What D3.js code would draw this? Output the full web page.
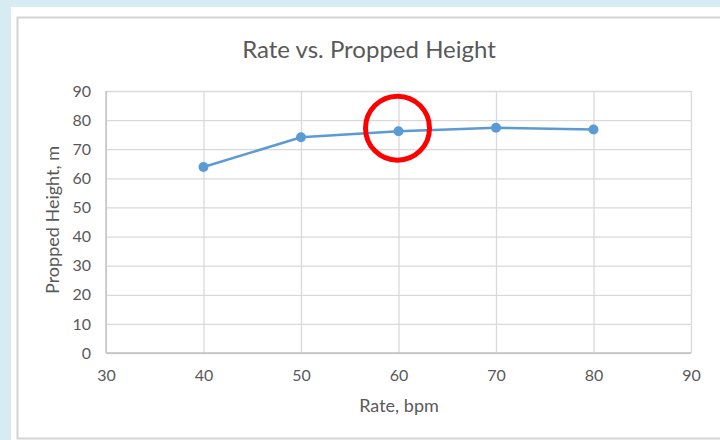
<!DOCTYPE html>
<html>
<head>
<meta charset="utf-8">
<script src="https://cdn.jsdelivr.net/npm/d3@7"></script>
<style>
  html, body { margin: 0; padding: 0; background: #d7ecf2; }
  svg { display: block; }
  text { font-family: Lato, "Open Sans", sans-serif; fill: #595959; }
</style>
</head>
<body>
<svg id="chart" width="720" height="440"></svg>
<script>
// Measured heights at each stroke rate
const rates = [40, 50, 60, 70, 80];
const heights = [63.9, 74.1, 76.2, 77.4, 76.8];
const xTicks = [30, 40, 50, 60, 70, 80, 90];
const yTicks = [0, 10, 20, 30, 40, 50, 60, 70, 80, 90];
const highlightRate = 60;

const svg = d3.select("#chart");

// White card with a thin grey frame
svg.append("rect").attr("x", 11).attr("y", 7).attr("width", 720).attr("height", 440).attr("fill", "#ffffff");
svg.append("rect").attr("x", 17.5).attr("y", 17.5).attr("width", 720).attr("height", 421)
  .attr("fill", "none").attr("stroke", "#d4d4d4").attr("stroke-width", 2);

const x = d3.scaleLinear().domain([30, 90]).range([106, 691]);
const y = d3.scaleLinear().domain([0, 90]).range([353, 91]);

// Horizontal gridlines
svg.append("g")
  .attr("transform", `translate(${x(30)},0)`)
  .call(d3.axisLeft(y).tickValues(yTicks).tickSize(-(x(90) - x(30))).tickFormat(""))
  .call(g => g.select(".domain").remove())
  .call(g => g.selectAll("line").attr("stroke", "#d9d9d9").attr("stroke-width", 1.3));

// Vertical gridlines
svg.append("g")
  .attr("transform", `translate(0,${y(0)})`)
  .call(d3.axisBottom(x).tickValues(xTicks).tickSize(-(y(0) - y(90))).tickFormat(""))
  .call(g => g.select(".domain").remove())
  .call(g => g.selectAll("line").attr("stroke", "#d9d9d9").attr("stroke-width", 1.3));

// Axis lines
svg.append("line").attr("x1", x(30)).attr("x2", x(90)).attr("y1", y(0)).attr("y2", y(0))
  .attr("stroke", "#bfbfbf").attr("stroke-width", 1.3);
svg.append("line").attr("x1", x(30)).attr("x2", x(30)).attr("y1", y(0)).attr("y2", y(90))
  .attr("stroke", "#bfbfbf").attr("stroke-width", 1.3);

// Tick labels
svg.append("g")
  .attr("transform", `translate(${x(30) - 15},0)`)
  .call(d3.axisLeft(y).tickValues(yTicks).tickSize(0).tickPadding(0))
  .call(g => g.select(".domain").remove())
  .call(g => g.selectAll("text").style("font-size", "16px").attr("fill", "#595959")
    .style("font-family", "Lato, 'Open Sans', sans-serif"));

svg.append("g")
  .attr("transform", `translate(0,${y(0) + 17})`)
  .call(d3.axisBottom(x).tickValues(xTicks).tickSize(0).tickPadding(0))
  .call(g => g.select(".domain").remove())
  .call(g => g.selectAll("text").style("font-size", "16px").attr("fill", "#595959")
    .style("font-family", "Lato, 'Open Sans', sans-serif"));

// Titles
svg.append("text").attr("x", 369).attr("y", 58).attr("text-anchor", "middle")
  .style("font-size", "24px").text("Rate vs. Propped Height");
svg.append("text").attr("x", 399).attr("y", 412).attr("text-anchor", "middle")
  .style("font-size", "18px").text("Rate, bpm");
svg.append("text").attr("transform", "translate(59,220) rotate(-90)").attr("text-anchor", "middle")
  .style("font-size", "18px").text("Propped Height, m");

// Series line and markers
const pts = rates.map((r, i) => [r, heights[i]]);
svg.append("path")
  .datum(pts)
  .attr("d", d3.line().x(d => x(d[0])).y(d => y(d[1])))
  .attr("fill", "none").attr("stroke", "#5b9bd5").attr("stroke-width", 2.5);
svg.append("g").selectAll("circle").data(pts).join("circle")
  .attr("cx", d => x(d[0])).attr("cy", d => y(d[1])).attr("r", 5)
  .attr("fill", "#5b9bd5");

// Red ring around the highlighted point
const hi = pts.find(d => d[0] === highlightRate);
svg.append("circle")
  .attr("cx", x(hi[0]) - 1).attr("cy", y(hi[1]) - 3).attr("r", 32)
  .attr("fill", "none").attr("stroke", "#ff0000").attr("stroke-width", 5);
</script>
</body>
</html>
